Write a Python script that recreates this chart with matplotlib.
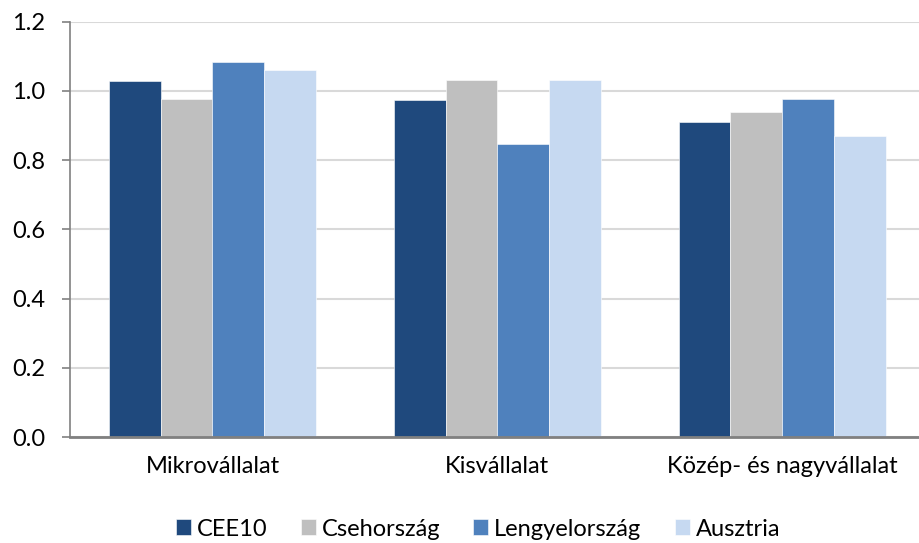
import matplotlib.pyplot as plt
import numpy as np

categories = ['Mikrovállalat', 'Kisvállalat', 'Közép- és nagyvállalat']
series = ['CEE10', 'Csehország', 'Lengyelország', 'Ausztria']
values = {
    'CEE10': [1.028, 0.973, 0.910],
    'Csehország': [0.977, 1.032, 0.939],
    'Lengyelország': [1.083, 0.848, 0.977],
    'Ausztria': [1.059, 1.032, 0.869],
}
colors = ['#1F497D', '#BFBFBF', '#4F81BD', '#C6D9F1']

plt.rcParams['font.family'] = ['Lato', 'DejaVu Sans']
fs = 17

fig = plt.figure(figsize=(9.19, 5.43), dpi=100)
ax = fig.add_axes([70 / 919, 106 / 543, 1 - 70 / 919, 415.3 / 543])

x = np.arange(len(categories))
w = 1 / 5.5
for i, (name, c) in enumerate(zip(series, colors)):
    ax.bar(x + (i - 1.5) * w, values[name], w, color=c, label=name,
           edgecolor='white', linewidth=0.4, zorder=3)

ax.set_xlim(-0.5, 2.48)
ax.set_ylim(0, 1.2)
ax.set_yticks(np.arange(0, 1.21, 0.2))
ax.set_yticklabels([f'{v:.1f}' for v in np.arange(0, 1.21, 0.2)])
ax.set_xticks(x)
ax.set_xticklabels(categories)
ax.tick_params(axis='x', length=0, pad=14, labelsize=fs, colors='#000000')
ax.tick_params(axis='y', length=6, width=1.2, color='#808080', pad=12, labelsize=fs)
ax.grid(axis='y', color='#D9D9D9', linewidth=1.5, zorder=0)
ax.set_axisbelow(True)

for s in ['top', 'right']:
    ax.spines[s].set_visible(False)
ax.spines['left'].set_color('#808080')
ax.spines['left'].set_linewidth(1.2)
ax.spines['bottom'].set_color('#808080')
ax.spines['bottom'].set_linewidth(2)
ax.spines['bottom'].set_zorder(4)

fig.legend(loc='center', bbox_to_anchor=(478 / 919, 14 / 543), ncol=4, frameon=False,
           fontsize=fs, handlelength=0.64, handleheight=0.64, handletextpad=0.25,
           columnspacing=1.4, borderpad=0)

plt.savefig('out.png', dpi=100)
